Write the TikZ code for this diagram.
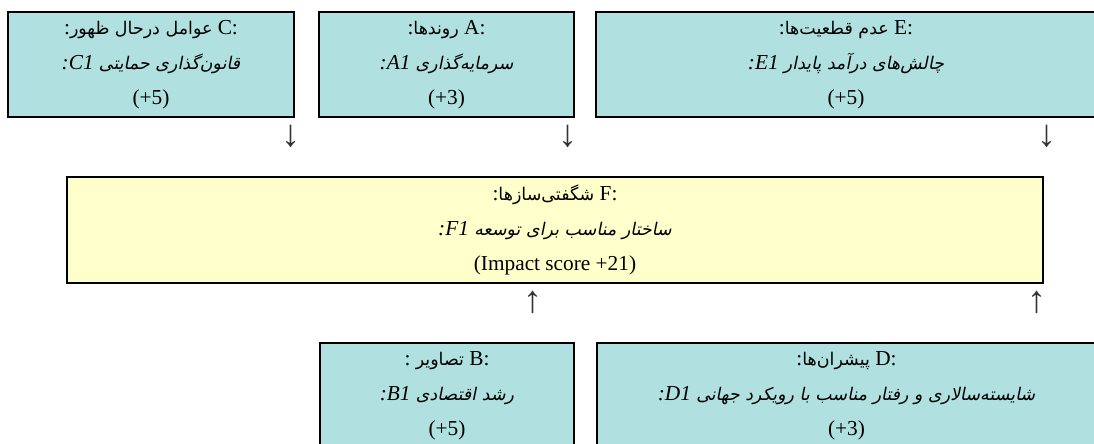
\documentclass[tikz,border=0pt]{standalone}
\usepackage{fontspec}
\setmainfont{Liberation Serif}
\newfontfamily\arabicfont[Script=Arabic,Scale=0.82]{DejaVu Sans}
\newfontfamily\arabicslant[Script=Arabic,Scale=0.82,FakeSlant=0.2]{DejaVu Sans}
\TeXXeTstate=1
\definecolor{lteal}{RGB}{176,224,224}
\definecolor{lyellow}{RGB}{255,255,204}
\tikzstyle{factor}=[rectangle, draw=black, line width=2pt, fill=lteal, align=center, inner sep=0pt, font=\fontsize{21.3}{35}\selectfont]
\tikzstyle{result}=[factor, fill=lyellow]
\tikzstyle{flow}=[inner sep=0pt, text=black!80, font=\fontsize{38}{40}\selectfont]
\newcommand{\fatext}[1]{{\arabicfont #1}}
\newcommand{\faslanted}[1]{{\arabicslant #1}}

\begin{document}
\begin{tikzpicture}[x=1pt, y=-1pt]
    \useasboundingbox (0, 0) rectangle (1094, 444);
    \clip (0, 0) rectangle (1094, 444);

    \node [style=factor, minimum width=286pt, minimum height=105pt] (C) at (151, 64.5) {\beginR:\beginL C\endL{} \fatext{عوامل درحال ظهور}:\endR\\ \beginR\faslanted{قانون‌گذاری حمایتی} \beginL\textit{C1}\endL\textit{:}\endR\\ (+5)};
    \node [style=factor, minimum width=255pt, minimum height=105pt] (A) at (446.5, 64.5) {\beginR:\beginL A\endL{} \fatext{روندها}:\endR\\ \beginR\faslanted{سرمایه‌گذاری} \beginL\textit{A1}\endL\textit{:}\endR\\ (+3)};
    \node [style=factor, minimum width=500pt, minimum height=105pt] (E) at (846, 64.5) {\beginR:\beginL E\endL{} \fatext{عدم قطعیت‌ها}:\endR\\ \beginR\faslanted{چالش‌های درآمد پایدار} \beginL\textit{E1}\endL\textit{:}\endR\\ (+5)};

    \node [style=flow] (toC) at (291, 136) {↓};
    \node [style=flow] (toA) at (568, 136) {↓};
    \node [style=flow] (toE) at (1047, 136) {↓};

    \node [style=result, minimum width=976pt, minimum height=106pt] (F) at (555, 230) {\beginR:\beginL F\endL{} \fatext{شگفتی‌سازها}:\endR\\ \beginR\faslanted{ساختار مناسب برای توسعه} \beginL\textit{F1}\endL\textit{:}\endR\\ (Impact score +21)};

    \node [style=flow] (fromB) at (533, 302) {↑};
    \node [style=flow] (fromD) at (1037, 302) {↑};

    \node [style=factor, minimum width=254pt, minimum height=105pt] (B) at (447, 395.5) {\beginR:\beginL B\endL{} \fatext{تصاویر} :\endR\\ \beginR\faslanted{رشد اقتصادی} \beginL\textit{B1}\endL\textit{:}\endR\\ (+5)};
    \node [style=factor, minimum width=499pt, minimum height=105pt] (D) at (846.5, 395.5) {\beginR:\beginL D\endL{} \fatext{پیشران‌ها}:\endR\\ \beginR\faslanted{شایسته‌سالاری و رفتار مناسب با رویکرد جهانی} \beginL\textit{D1}\endL\textit{:}\endR\\ (+3)};
\end{tikzpicture}
\end{document}
